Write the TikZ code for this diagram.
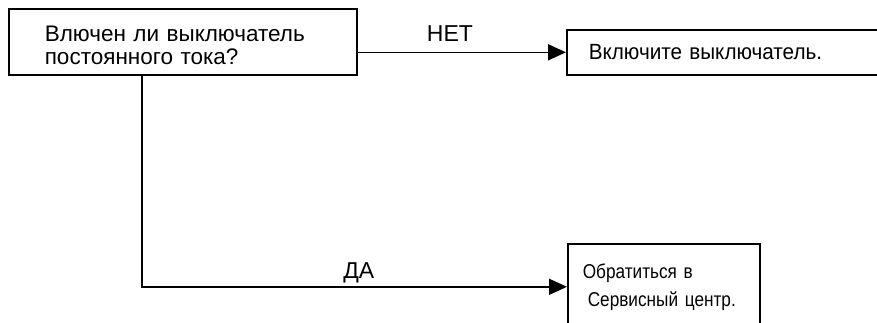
\documentclass[tikz,border=0pt]{standalone}
\usepackage{fontspec}
\setmainfont{Liberation Sans}
\newfontfamily\narrowfont[FakeStretch=0.94]{Liberation Sans}
\newfontfamily\slimfont[FakeStretch=0.86]{Liberation Sans}
\usetikzlibrary{arrows.meta}
\tikzset{
	box/.style={draw, line width=1.6pt, rectangle, anchor=north west, align=left},
	flow/.style={line width=1.6pt, -{Triangle[length=18pt,width=16pt]}},
	answer/.style={font=\fontsize{23}{26}\selectfont, inner sep=0pt, text depth=0pt}
}
\begin{document}
\begin{tikzpicture}[x=1pt,y=-1pt]
	\clip (0,0) rectangle (877,322);
	\fill[white] (0,0) rectangle (877,322);
	%question
	\node[box, minimum width=348pt, minimum height=66pt, text width=276pt, inner xsep=36pt,
		font=\fontsize{22.5}{23}\selectfont] (q) at (8,8)
		{\rule{0pt}{21.7pt}Влючен ли выключатель\\постоянного тока?};
	%answers
	\node[box, minimum width=400pt, minimum height=45pt, text width=356pt, inner xsep=22pt,
		font=\narrowfont\fontsize{22}{24}\selectfont] (on) at (566,29)
		{Включите выключатель.};
	\node[box, minimum width=184pt, minimum height=86pt, text width=162pt, inner xsep=15pt,
		font=\slimfont\fontsize{20}{28}\selectfont] (svc) at (567,243)
		{Обратиться в\\\hspace*{5pt}Сервисный центр.};
	%connectors
	\draw[flow] (q.east |- on.west) -- node[answer, above=10pt, pos=0.443] (no) {НЕТ} (on.west);
	\draw[flow] ([xshift=134pt]q.south west) |- node[answer, above=8pt, pos=0.755] (yes) {ДА} (svc.west);
\end{tikzpicture}
\end{document}
